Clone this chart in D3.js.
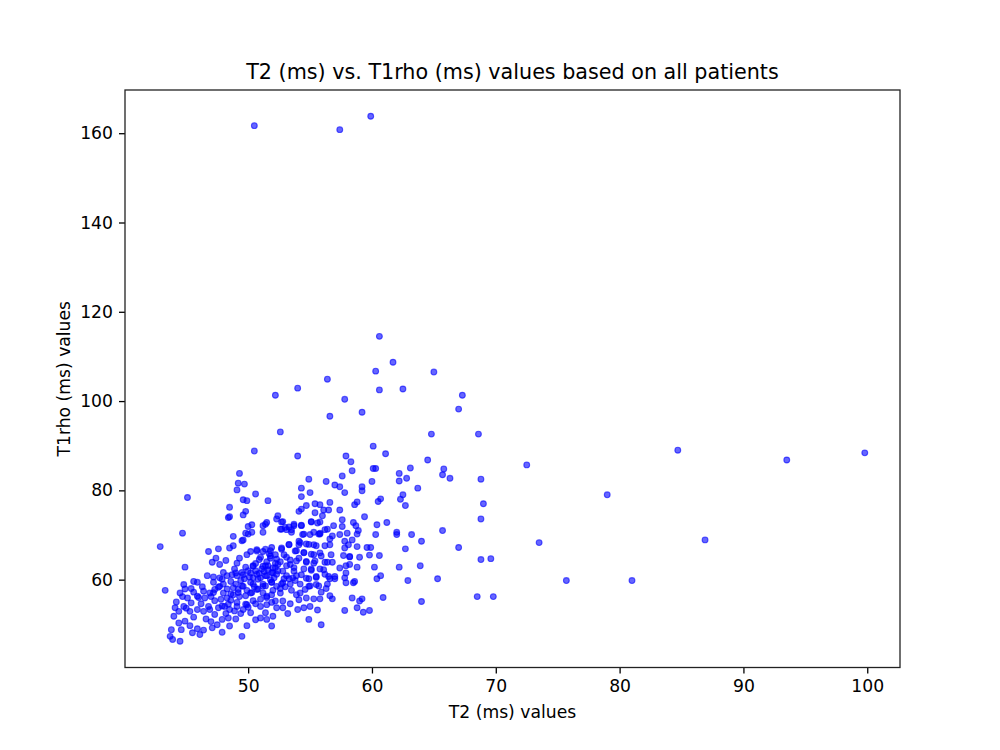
<!DOCTYPE html>
<html>
<head>
<meta charset="utf-8">
<script src="https://cdn.jsdelivr.net/npm/d3@7"></script>
<style>
  html, body { margin: 0; padding: 0; background: #fff; }
  svg { display: block; font-family: "DejaVu Sans", sans-serif; }
</style>
</head>
<body>
<svg id="chart" width="1000" height="750"></svg>
<script>
// ---- data: [T2 (ms), T1rho (ms)] ----
const outlierPoints = [[50.5,161.7],[57.4,160.8],[59.9,163.8],[72.5,85.7],[79.0,79.0],[73.5,68.3],[75.7,59.8],[81.0,59.8],[84.7,89.0],[93.5,86.8],[99.8,88.4],[86.9,68.9]];

const upperPoints = [[60.6,114.5],[61.7,108.7],[60.3,106.7],[65.0,106.5],[56.4,104.9],[54.0,102.9],[60.6,102.5],[62.5,102.7],[52.2,101.3],[67.3,101.3],[57.8,100.4],[59.2,97.5],[56.6,96.6],[67.0,98.2],[52.6,93.1],[64.8,92.6],[68.6,92.6],[50.5,88.8],[54.0,87.7],[60.1,89.9],[61.1,88.2],
[57.9,87.7],[58.3,86.4],[60.1,84.9],[60.3,84.9],[58.4,84.4],[57.6,83.2],[64.5,86.8],[63.1,85.0],[62.2,83.8],[62.8,82.7],[62.2,82.1],[65.8,84.8],[65.7,83.5],[66.3,82.7],[68.8,82.5],[63.7,80.5],[62.5,79.0],[62.3,78.0],[62.7,76.6],[60.7,78.1],[60.5,77.5],[60.0,82.0],[59.2,80.8],[59.2,79.9],[57.8,79.5],[57.4,80.8],[57.0,81.2],[56.3,82.0],[54.9,82.5],[54.3,80.5],[55.0,79.5],[54.3,78.6],[51.6,77.7],[58.8,77.4],[58.6,76.8],[55.4,77.0],[55.8,76.8],[56.6,77.3],[54.7,76.6],[69.0,77.0],[68.8,73.6],[67.0,67.2],[65.7,71.0],[64.0,68.6],[62.7,66.9],[63.2,70.1],[62.0,70.1],[62.0,70.6]];

const leftMidPoints = [[49.3,83.8],[49.2,81.6],[49.7,81.4],[49.1,80.1],[50.6,79.2],[45.1,78.4],[48.5,76.2],[49.6,77.9],[49.9,77.7],[49.8,75.3],[49.6,74.5],[48.5,74.1],[48.4,73.9],[51.5,72.8],[51.2,72.1],[50.3,72.3],[50.0,71.9],[52.4,74.3],[52.3,73.6],[52.8,73.0],[53.3,71.8],[52.7,71.3],[53.7,72.1],[54.1,75.3],[44.7,70.4],[49.8,70.4],[50.0,70.2],[48.8,69.7],[49.6,68.9],[53.1,71.2],[53.5,71.2],[54.1,68.6],[55.8,70.4]];

const rightMidPoints = [[54.3,75.8],[55.4,75.0],[56.1,75.6],[56.5,75.6],[56.0,74.3],[57.4,75.6],[59.4,74.1],[57.6,73.4],[55.1,73.0],[55.6,72.7],[56.9,72.1],[57.6,71.9],[58.5,72.8],[58.7,72.1],[58.9,71.0],[60.4,72.3],[61.2,72.8],[60.3,70.1],[54.3,72.1],[54.4,70.1],[55.0,70.1],[55.7,70.2],[56.2,71.2],[56.8,69.8],[57.4,70.1],[58.0,70.4],[56.6,69.1],[57.8,68.6],[58.4,68.9],[58.8,70.2]];

const rightLowPoints = [[69.6,64.7],[68.8,64.5],[69.8,56.2],[68.5,56.2],[65.3,60.2],[64.0,55.1],[63.9,63.1],[62.9,59.8],
[59.9,67.2],[59.6,67.2],[60.6,65.4],[60.2,62.8],[60.4,60.2],[60.7,60.9],[62.2,62.8],[60.9,56.0],[59.0,65.0],[58.8,62.8],[58.4,55.9],[59.2,55.7],[59.0,55.2],[58.8,53.7],[59.3,52.7],[59.8,53.1],[57.8,53.1],[56.8,55.7],[55.9,49.9],[58.2,65.2],[58.2,63.4],[57.9,63.1],[58.5,59.3],[58.6,59.6],[57.9,59.3],[57.0,60.2],[56.6,60.2],[57.8,60.4],[57.9,61.5],[57.4,62.6],[59.8,65.5]];

const centerPoints = [[58.8,67.4],[58.2,65.1],[57.7,65.4],[58.1,67.8],[57.8,67.1],[56.6,67.8],[55.3,67.8],[54.7,68.0],[54.1,67.8],[53.3,67.8],[52.7,67.1],[52.2,65.6],[53.9,66.5],[54.5,66.0],[55.3,65.6],[55.8,66.0],[56.7,65.6],[56.8,63.9],[56.2,63.9],[55.3,63.7],[54.7,64.1],[54.1,64.8],[53.4,63.4],[52.4,63.4],[52.0,62.6],[52.8,61.9],[53.7,61.9],[54.3,61.1],[55.1,62.1],[56.1,62.2],[56.5,60.7],[57.0,60.7],[55.5,60.7],[55.5,58.9],[54.9,60.2],[53.8,59.8],[53.3,60.2],[52.8,59.3],[52.3,58.5],[52.6,57.0],[51.9,56.6],[52.2,55.2],[52.8,55.2],[52.3,53.7],[52.8,53.7],[52.0,51.8],[51.9,49.6],[54.1,55.5],[53.9,56.6],[54.6,57.8],[54.7,55.9],[55.3,55.7],[55.8,55.7],[54.9,58.5],[54.0,53.3],[54.5,53.7],[55.0,54.0],[54.9,51.1]];

const leftLowPoints = [[46.8,66.3],[47.6,66.9],[48.5,67.1],[48.8,67.6],[49.5,68.7],[47.1,63.9],[47.7,63.4],[48.2,64.3],[49.1,63.7],[49.3,64.8],[49.9,65.6],[50.2,66.3],[50.7,66.7],[51.2,66.3],[51.8,66.5],[44.9,62.8],[43.3,57.6],[42.9,67.4],
[46.7,60.9],[47.2,60.6],[47.7,60.4],[48.3,60.9],[48.7,61.1],[49.0,61.5],[49.6,61.1],[50.2,61.5],[45.6,59.6],[44.8,58.9],[44.9,57.9],[44.5,57.0],[45.1,55.9],[45.6,57.2],[45.9,56.3],[46.5,55.9],[46.9,57.0],[47.3,57.8],[47.7,58.5],[48.0,57.0],[48.3,55.9],[48.8,56.6],[49.2,57.8],[49.6,58.5],[50.2,57.0],[50.7,57.8],[51.2,58.5],[51.5,56.3],[51.8,60.0],[51.0,60.4],[52.0,61.5],[51.2,63.0],[50.4,63.0],[52.2,63.7],[51.8,64.8],
[44.1,53.7],[44.4,52.9],[44.8,54.0],[45.3,52.9],[45.9,53.3],[46.4,52.9],[46.9,53.3],[47.3,52.2],[47.6,53.7],[48.1,54.0],[48.5,53.3],[49.1,54.0],[49.6,53.3],[49.9,54.4],[50.2,52.6],[51.0,54.0],[51.5,54.4],[51.0,51.4],[51.5,51.1],[49.9,49.7],[47.9,48.2],[49.5,47.3],[43.7,47.3],[43.9,46.6],[44.5,46.2],[43.8,48.8],[44.6,48.8],[44.4,50.3],[44.9,50.7],[45.3,49.7],[45.9,49.0],[46.4,48.7],[45.5,48.1],[46.1,47.7],[47.1,49.2],[47.5,49.9],[48.5,49.6],[49.0,51.2],[48.4,51.4],[47.9,51.1]];

const coreLeftPoints = [[47.4,64.8],[47.2,59.4],[47.9,60.1],[49.1,60.9],[49.5,61.6],[50.0,62.0],[50.6,62.0],[51.1,62.4],[51.6,63.1],[47.6,58.3],[48.3,57.9],[49.0,59.0],[49.5,58.6],[50.2,59.4],[50.8,60.1],[51.4,60.9],[51.9,61.6],[45.9,59.4],[46.0,56.0],[47.2,57.1],[47.3,55.3],[48.6,56.8],[49.2,57.1],[49.8,56.4],[50.3,57.1],[50.8,57.9],[51.4,58.6],[51.9,59.4],[47.9,54.1],[48.4,54.5],[49.1,54.9],[49.8,54.5],[50.4,55.3],[51.0,55.6],[51.5,56.0],[51.9,54.9],[50.0,53.8]];

const coreRightPoints = [[51.4,72.4],[52.7,72.9],[53.7,72.4],[54.3,72.2],[55.1,72.9],[55.8,72.9],[50.3,70.6],[51.2,70.6],[52.6,71.3],[53.0,71.7],[53.5,70.6],[54.5,70.2],[55.3,70.6],[55.8,70.2],[56.4,71.3],[53.3,67.9],[54.2,68.3],[54.9,67.9],[55.5,67.6],[56.2,67.6],[50.7,66.4],[51.4,66.8],[51.9,67.2],[52.7,66.8],[53.8,66.4],[54.5,66.1],[55.1,65.7],[55.9,65.3],[51.0,65.0],[51.8,65.3],[52.3,64.6],[53.1,65.0],[53.9,64.2],[54.7,63.9],[55.4,64.2],[50.4,63.1],[51.4,63.1],[52.2,62.7],[53.1,63.1],[53.7,62.7],[54.5,62.4],[55.1,62.4],[55.8,62.4],[56.4,63.9],[50.7,61.2],[51.5,60.9],[52.3,61.2],[53.1,60.9],[53.9,60.9],[54.7,60.3],[55.5,60.5],[56.2,61.2],[50.4,59.0],[51.2,59.0],[51.9,59.4],[52.7,59.0],[53.4,59.0],[54.2,59.0],[55.0,58.6],[55.7,58.6],[56.4,59.0]];

const coreDensePoints = [[48.0,59.0],[48.8,58.2],[49.4,59.8],[50.1,60.6],[50.9,61.4],[51.6,62.2],[52.4,62.0],[51.3,61.8],[50.5,58.4],[49.9,57.6],[49.3,56.2],[48.6,55.4],[47.8,55.6],[47.0,56.2],[46.4,57.4],[46.2,54.6],[45.4,54.8],[45.0,53.6],[46.8,54.0],[48.9,53.0],[50.6,54.6],[51.2,57.0],[52.0,57.6],[52.6,58.0],[53.0,58.4],[53.6,60.4],[52.9,60.2],[52.1,60.4],[50.4,60.4],[49.7,60.2],[48.6,59.6],[48.0,61.6],[48.9,62.4],[49.8,62.8],[50.6,63.6],[51.5,64.0],[52.6,64.0],[53.4,64.4],[52.9,65.6],[51.7,65.8],[50.9,64.5],[46.3,58.4],[45.4,58.0],[44.7,56.2],[44.2,55.0],[45.6,51.6],[46.6,51.2],[47.0,50.6],[44.0,51.8],[48.2,52.4],[49.4,52.4],[53.5,57.6],[54.2,57.0],[55.9,57.2],[56.3,58.0],[56.6,56.4],[55.6,53.2],[53.4,54.6],[53.2,52.4],[51.4,52.6],[50.6,51.0]];

const xTicks = [50, 60, 70, 80, 90, 100];
const yTicks = [60, 80, 100, 120, 140, 160];
const titleText = "T2 (ms) vs. T1rho (ms) values based on all patients";
const xLabelText = "T2 (ms) values";
const yLabelText = "T1rho (ms) values";

const allPoints = [].concat(outlierPoints, upperPoints, leftMidPoints, rightMidPoints,
  rightLowPoints, centerPoints, leftLowPoints, coreLeftPoints, coreRightPoints, coreDensePoints);

// ---- layout ----
const svg = d3.select("#chart");
const m = { left: 125, right: 900, top: 90, bottom: 667.5 };

const xMin = d3.min(allPoints, d => d[0]), xMax = d3.max(allPoints, d => d[0]);
const yMin = d3.min(allPoints, d => d[1]), yMax = d3.max(allPoints, d => d[1]);
const xPad = (xMax - xMin) * 0.05, yPad = (yMax - yMin) * 0.05;

const x = d3.scaleLinear().domain([xMin - xPad, xMax + xPad]).range([m.left, m.right]);
const y = d3.scaleLinear().domain([yMin - yPad, yMax + yPad]).range([m.bottom, m.top]);

const fontSize = 17.2;
const lw = 1.3;

// points
svg.append("g")
  .selectAll("circle")
  .data(allPoints)
  .join("circle")
  .attr("cx", d => x(d[0]))
  .attr("cy", d => y(d[1]))
  .attr("r", 2.9)
  .attr("fill", "blue")
  .attr("fill-opacity", 0.6)
  .attr("stroke", "blue")
  .attr("stroke-opacity", 0.6)
  .attr("stroke-width", 1.1);

// axes
const xAxis = d3.axisBottom(x).tickValues(xTicks).tickSize(6).tickPadding(6).tickFormat(d3.format("d"));
const yAxis = d3.axisLeft(y).tickValues(yTicks).tickSize(6).tickPadding(6).tickFormat(d3.format("d"));

const gx = svg.append("g").attr("transform", `translate(0,${m.bottom})`).call(xAxis);
const gy = svg.append("g").attr("transform", `translate(${m.left},0)`).call(yAxis);
[gx, gy].forEach(g => {
  g.select(".domain").remove();
  g.selectAll(".tick line").attr("stroke", "#000").attr("stroke-width", lw);
  g.selectAll(".tick text").attr("fill", "#000").style("font-size", fontSize + "px")
    .style("font-family", "'DejaVu Sans', sans-serif");
});

// frame
svg.append("rect")
  .attr("x", m.left).attr("y", m.top)
  .attr("width", m.right - m.left).attr("height", m.bottom - m.top)
  .attr("fill", "none").attr("stroke", "#222").attr("stroke-width", lw);

// title & labels
svg.append("text")
  .attr("x", (m.left + m.right) / 2).attr("y", 79)
  .attr("text-anchor", "middle")
  .style("font-size", "20.7px")
  .text(titleText);

svg.append("text")
  .attr("x", (m.left + m.right) / 2).attr("y", 718)
  .attr("text-anchor", "middle")
  .style("font-size", fontSize + "px")
  .text(xLabelText);

svg.append("text")
  .attr("transform", `translate(70,${(m.top + m.bottom) / 2}) rotate(-90)`)
  .attr("text-anchor", "middle")
  .style("font-size", fontSize + "px")
  .text(yLabelText);
</script>
</body>
</html>
